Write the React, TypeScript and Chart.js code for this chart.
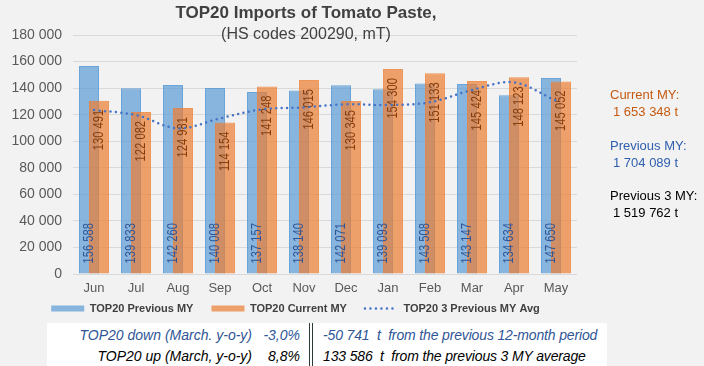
import React, { useEffect, useRef } from 'react';
import { Chart, registerables } from 'chart.js';

Chart.register(...registerables);

// ---- Data ----
const months = ['Jun', 'Jul', 'Aug', 'Sep', 'Oct', 'Nov', 'Dec', 'Jan', 'Feb', 'Mar', 'Apr', 'May'];
const previousMY = [156588, 139833, 142260, 140008, 137157, 138140, 142071, 139093, 143508, 143147, 134634, 147650];
const currentMY = [130491, 122082, 124981, 114154, 141248, 146015, 130345, 154300, 151133, 145424, 148123, 145052];
const prev3MYAvg = [123500, 119700, 109700, 117200, 124000, 125500, 127800, 127300, 129300, 138600, 144300, 130500];
const seriesNames = ['TOP20 Previous MY', 'TOP20 Current MY', 'TOP20 3 Previous MY Avg'];
const yMin = 0;
const yMax = 180000;
const yStep = 20000;

const titleText = 'TOP20 Imports of Tomato Paste,';
const subtitleText = '(HS codes 200290, mT)';

const sideLabels = ['Current MY:', 'Previous MY:', 'Previous 3 MY:'];
const sideValues = ['1 653 348 t', '1 704 089 t', '1 519 762 t'];
const sideColors = ['#c55a11', '#2f5fae', '#000000'];

const tableLabels = ['TOP20 down (March. y-o-y)', 'TOP20 up (March, y-o-y)'];
const tablePercents = ['-3,0%', '8,8%'];
const tableNotes = ['-50 741  t  from the previous 12-month period', '133 586  t  from the previous 3 MY average'];
const tableColors = ['#2f5597', '#000000'];

const FONT = "'Liberation Sans', Arial, sans-serif";

const fmt = (v: number) => String(v).replace(/\B(?=(\d{3})+(?!\d))/g, ' ');

const overlapPlugin = {
  id: 'overlapOrder',
  afterLayout(chart: any) {
    const lg = chart.legend;
    if (lg) {
      lg.top -= 13;
      lg.bottom -= 13;
      lg.left += 7;
      lg.right += 7;
    }
  },
  beforeDatasetDraw(chart: any, args: any) {
    if (args.index === 0) return false;
    if (args.index === 1) {
      const m = chart.getDatasetMeta(0);
      if (m && !m.hidden) m.controller.draw();
    }
    return true;
  },
  afterDatasetDraw(chart: any, args: any) {
    if (args.index !== 1) return;
    const ctx = chart.ctx;
    [0, 1].forEach((di) => {
      const meta = chart.getDatasetMeta(di);
      const ds = chart.data.datasets[di];
      meta.data.forEach((el: any, i: number) => {
        const v = ds.data[i] as number;
        const p = el.getProps(['x', 'y', 'base'], true);
        ctx.save();
        ctx.font = `14px ${FONT}`;
        ctx.fillStyle = di === 0 ? '#2f5597' : '#843c0c';
        ctx.translate(p.x, di === 0 ? p.base - 10 : p.y + 9);
        ctx.rotate(-Math.PI / 2);
        ctx.scale(0.8, 1);
        ctx.textAlign = di === 0 ? 'left' : 'right';
        ctx.textBaseline = 'middle';
        ctx.fillText(fmt(v), 0, 0);
        ctx.restore();
      });
    });
  },
};

export default function App() {
  const canvasRef = useRef<HTMLCanvasElement | null>(null);

  useEffect(() => {
    if (!canvasRef.current) return;
    const chart = new Chart(canvasRef.current, {
      type: 'bar',
      data: {
        labels: months,
        datasets: [
          {
            type: 'bar',
            label: seriesNames[0],
            data: previousMY,
            backgroundColor: 'rgba(91,155,213,0.7)',
            borderColor: 'rgba(91,155,213,0.9)',
            borderWidth: 1,
            categoryPercentage: 0.476,
            barPercentage: 2,
            order: 0,
          },
          {
            type: 'bar',
            label: seriesNames[1],
            data: currentMY,
            backgroundColor: 'rgba(237,125,49,0.7)',
            borderColor: 'rgba(237,125,49,0.8)',
            borderWidth: 1,
            categoryPercentage: 0.476,
            barPercentage: 2,
            order: 0,
          },
          {
            type: 'line',
            label: seriesNames[2],
            data: prev3MYAvg,
            borderColor: '#4472c4',
            backgroundColor: '#4472c4',
            borderWidth: 2.5,
            borderDash: [0, 5.5],
            borderCapStyle: 'round',
            pointRadius: 0,
            tension: 0.35,
            fill: false,
            order: -1,
          } as any,
        ],
      },
      options: {
        responsive: false,
        animation: false,
        devicePixelRatio: 1,
        layout: { padding: { left: 0, right: 127, top: 35, bottom: 29 } },
        plugins: {
          title: { display: false },
          tooltip: { enabled: false },
          legend: {
            display: true,
            position: 'bottom',
            labels: {
              usePointStyle: true,
              pointStyleWidth: 33,
              boxHeight: 6,
              padding: 18,
              color: '#404040',
              font: { size: 11, weight: 'bold', family: FONT },
              generateLabels: (chart: any) => {
                const items = (Chart.defaults.plugins.legend.labels as any).generateLabels(chart);
                items.forEach((it: any) => {
                  if (it.datasetIndex === 2) {
                    it.pointStyle = 'line';
                    it.lineWidth = 2.5;
                    it.lineDash = [0, 5.5];
                    it.lineCap = 'round';
                    it.strokeStyle = '#4472c4';
                  } else {
                    it.pointStyle = 'rect';
                    it.lineWidth = 0;
                  }
                });
                return items.sort((a: any, b: any) => a.datasetIndex - b.datasetIndex);
              },
            },
          },
        },
        scales: {
          x: {
            grid: { display: false, drawTicks: false },
            border: { display: false },
            ticks: { padding: 7, color: '#595959', font: { size: 13, family: FONT } },
            afterFit: (s: any) => { s.height = 24; },
          },
          y: {
            min: yMin,
            max: yMax,
            grid: { color: '#d9d9d9', drawTicks: false },
            border: { display: false },
            ticks: {
              stepSize: yStep,
              padding: 11,
              color: '#595959',
              font: { size: 14, family: FONT },
              callback: (v: any) => fmt(Number(v)),
            },
            afterFit: (s: any) => { s.width = 73; },
          },
        },
      } as any,
      plugins: [overlapPlugin as any],
    });
    return () => chart.destroy();
  }, []);

  return (
    <div style={{ position: 'fixed', left: 0, top: 0, width: 704, height: 366, background: '#f2f2f2', overflow: 'hidden', fontFamily: FONT }}>
      <canvas ref={canvasRef} width={704} height={366} style={{ position: 'absolute', left: 0, top: 0, width: 704, height: 366, display: 'block' }} />
      <div style={{ position: 'absolute', left: 0, top: 3, width: 612, textAlign: 'center', fontSize: 17, fontWeight: 'bold', lineHeight: '20px', color: '#404040' }}>{titleText}</div>
      <div style={{ position: 'absolute', left: 0, top: 23.5, width: 612, textAlign: 'center', fontSize: 16, lineHeight: '19px', color: '#404040' }}>{subtitleText}</div>
      {sideLabels.map((lab, i) => (
        <React.Fragment key={lab}>
          <div style={{ position: 'absolute', left: 610, top: 87 + i * 50.5, fontSize: 13, lineHeight: '16px', color: sideColors[i], whiteSpace: 'nowrap' }}>{lab}</div>
          <div style={{ position: 'absolute', left: 613, top: 104 + i * 50.5, fontSize: 13, lineHeight: '16px', color: sideColors[i], whiteSpace: 'nowrap' }}>{sideValues[i]}</div>
        </React.Fragment>
      ))}
      <div style={{ position: 'absolute', left: 47, top: 323, width: 560, height: 43, background: '#ffffff' }}>
        <div style={{ position: 'absolute', left: 262, top: 0, width: 0, height: 43, borderLeft: '4px double #2b3b35' }} />
        {tableLabels.map((lab, i) => (
          <React.Fragment key={lab}>
            <div style={{ position: 'absolute', right: 355, top: 3.5 + i * 21, fontSize: 14, lineHeight: '17px', fontStyle: 'italic', color: tableColors[i], whiteSpace: 'pre' }}>{lab}</div>
            <div style={{ position: 'absolute', right: 307, top: 3.5 + i * 21, fontSize: 14, lineHeight: '17px', fontStyle: 'italic', color: tableColors[i], whiteSpace: 'pre' }}>{tablePercents[i]}</div>
            <div style={{ position: 'absolute', left: 276, top: 3.5 + i * 21, fontSize: 14, lineHeight: '17px', fontStyle: 'italic', color: tableColors[i], whiteSpace: 'pre', letterSpacing: '-0.15px' }}>{tableNotes[i]}</div>
          </React.Fragment>
        ))}
      </div>
    </div>
  );
}
